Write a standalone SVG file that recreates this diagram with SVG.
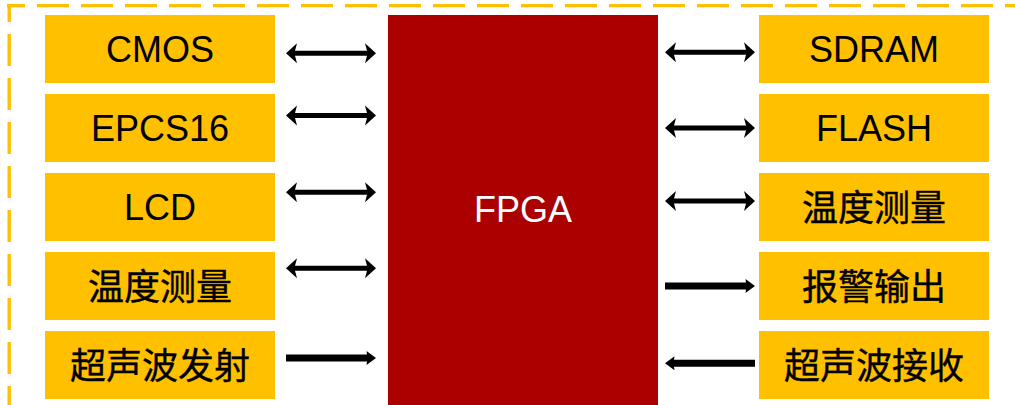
<svg xmlns="http://www.w3.org/2000/svg" width="1015" height="405" viewBox="0 0 1015 405">
  <style>
    .box { fill: #FFC000; }
    .lbl { font-family: "Liberation Sans", Arial, "Noto Sans CJK SC", sans-serif; font-size: 36px; fill: #000; text-anchor: middle; }
    .cjk { font-family: "Noto Sans CJK SC", "Liberation Sans", sans-serif; font-size: 36px; fill: #000; text-anchor: middle; stroke: #000; stroke-width: 0.4; }
    .frame { fill: none; stroke: #FFC000; stroke-width: 3.4; stroke-dasharray: 32 12; stroke-dashoffset: 14; }
    .arrow { fill: #000; }
  </style>
  <defs>
    <!-- two-headed link, 90 px long, centred on y=0 -->
    <path id="biArrow" d="M0,0 L11,-10 L9,-2.5 L81,-2.5 L79,-10 L90,0 L79,10 L81,2.5 L9,2.5 L11,10 Z"/>
    <!-- one-way link pointing right, 90 px long -->
    <path id="uniArrow" d="M0,-3.5 L81,-3.5 L80.5,-7 L90,0 L80.5,7 L81,3.5 L0,3.5 Z"/>
  </defs>

  <rect width="1015" height="405" fill="#fff"/>

  <!-- dashed enclosure -->
  <g id="frame">
    <line class="frame" x1="7" y1="5.6" x2="1015" y2="5.6"/>
    <line class="frame" x1="9.2" y1="4" x2="9.2" y2="405"/>
  </g>

  <!-- central FPGA block -->
  <g id="fpga">
    <rect x="388" y="15" width="270" height="395" fill="#AA0000"/>
    <text x="523" y="222" class="lbl" style="fill:#fff">FPGA</text>
  </g>

  <!-- left peripherals -->
  <g id="cmos">
    <rect class="box" x="45" y="15" width="230" height="68"/>
    <text class="lbl" x="160" y="62">CMOS</text>
  </g>
  <g id="epcs16">
    <rect class="box" x="45" y="94" width="230" height="68"/>
    <text class="lbl" x="160" y="141">EPCS16</text>
  </g>
  <g id="lcd">
    <rect class="box" x="45" y="173" width="230" height="68"/>
    <text class="lbl" x="160" y="220">LCD</text>
  </g>
  <g id="temp-left">
    <rect class="box" x="45" y="252" width="230" height="68"/>
    <text class="cjk" x="160" y="300">温度测量</text>
  </g>
  <g id="ultrasonic-tx">
    <rect class="box" x="45" y="331" width="230" height="68"/>
    <text class="cjk" x="160" y="379">超声波发射</text>
  </g>

  <!-- right peripherals -->
  <g id="sdram">
    <rect class="box" x="759" y="15" width="230" height="68"/>
    <text class="lbl" x="874" y="62">SDRAM</text>
  </g>
  <g id="flash">
    <rect class="box" x="759" y="94" width="230" height="68"/>
    <text class="lbl" x="874" y="141">FLASH</text>
  </g>
  <g id="temp-right">
    <rect class="box" x="759" y="173" width="230" height="68"/>
    <text class="cjk" x="874" y="221">温度测量</text>
  </g>
  <g id="alarm-out">
    <rect class="box" x="759" y="252" width="230" height="68"/>
    <text class="cjk" x="874" y="300">报警输出</text>
  </g>
  <g id="ultrasonic-rx">
    <rect class="box" x="759" y="331" width="230" height="68"/>
    <text class="cjk" x="874" y="379">超声波接收</text>
  </g>

  <!-- connectors -->
  <g id="connectors" class="arrow">
    <use href="#biArrow" x="286" y="53.3"/>
    <use href="#biArrow" x="286" y="115.5"/>
    <use href="#biArrow" x="286" y="192.3"/>
    <use href="#biArrow" x="286" y="268.3"/>
    <use href="#uniArrow" x="286" y="358"/>

    <use href="#biArrow" x="665" y="52.3"/>
    <use href="#biArrow" x="665" y="128"/>
    <use href="#biArrow" x="665" y="201"/>
    <use href="#uniArrow" x="665" y="286"/>
    <use href="#uniArrow" transform="translate(755,363.3) scale(-1,1)"/>
  </g>
</svg>
